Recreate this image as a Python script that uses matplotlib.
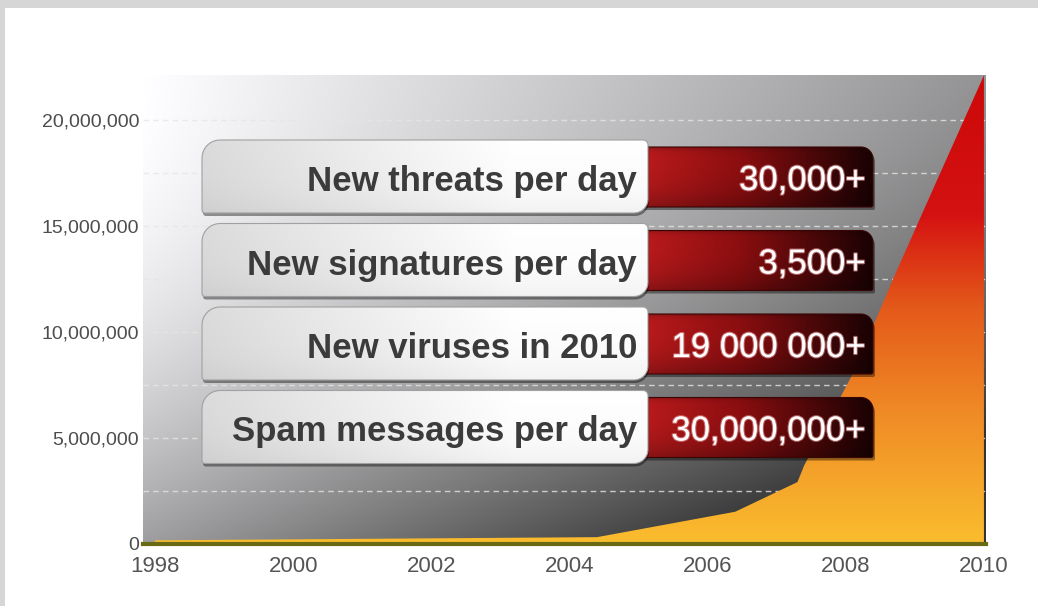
import numpy as np
import matplotlib
matplotlib.use("Agg")
import matplotlib.pyplot as plt
from matplotlib.patches import Polygon, Rectangle
from matplotlib.colors import LinearSegmentedColormap
import matplotlib.patheffects as pe

plt.rcParams['font.family'] = ['Liberation Sans', 'DejaVu Sans']

# New viruses (cumulative)
years = [1998, 2004.4, 2006.4, 2007.3, 2007.4, 2008.1, 2008.7, 2009.3, 2010]
viruses = [0.15e6, 0.3e6, 1.5e6, 2.9e6, 3.7e6, 8.0e6, 12.6e6, 17.0e6, 22.1e6]

xtick_years = [1998, 2000, 2002, 2004, 2006, 2008, 2010]
ytick_values = [0, 5e6, 10e6, 15e6, 20e6]
ytick_labels = ['0', '5,000,000', '10,000,000', '15,000,000', '20,000,000']
ygrid_minor = [2.5e6, 7.5e6, 12.5e6, 17.5e6]

stat_labels = ['New threats per day', 'New signatures per day',
               'New viruses in 2010', 'Spam messages per day']
stat_values = ['30,000+', '3,500+', '19 000 000+', '30,000,000+']

W, H = 1038, 606
fig = plt.figure(figsize=(W / 100, H / 100), dpi=100)
fig.patch.set_facecolor('white')

# main axes in pixel terms: left 143, right 986, top 75, bottom 543.5
ax = fig.add_axes([143.3 / W, (H - 543.5) / H, (986 - 143.3) / W, (543.5 - 75) / H])
xmin, xmax = 1997.83, 2010.03
ymax = 22.12e6

# grey lit background, bright in the top-left corner
U, V = np.meshgrid(np.linspace(0, 1, 300), np.linspace(0, 1, 200))
b = 1 - 0.42 * U - 0.38 * V ** 2 - 0.2 * U * V
b = np.clip(b, 0.2, 1)
bg = np.dstack([b, b, np.clip(b * 1.01, 0, 1)])
ax.imshow(bg, extent=(0, 1, 0, 1), transform=ax.transAxes, aspect='auto',
          origin='upper', zorder=0, interpolation='bilinear')

# area with a vertical heat gradient
poly = ax.fill_between(years, viruses, 0, facecolor='none', edgecolor='none', zorder=2)
heat = LinearSegmentedColormap.from_list('heat', [(0, '#fabd2e'), (0.27, '#f08c26'),
                                                  (0.5, '#e45a1a'), (0.7, '#d51212'),
                                                  (1, '#cc0808')])
grad = np.linspace(0, 1, 256).reshape(-1, 1)
im = ax.imshow(grad, extent=(xmin, xmax, 0, ymax), origin='lower', aspect='auto',
               cmap=heat, zorder=2, interpolation='bilinear')
im.set_clip_path(poly.get_paths()[0], transform=ax.transData)

ax.axhline(0, color='#6b6a14', lw=3, zorder=4, clip_on=False)

ax.set_xlim(xmin, xmax)
ax.set_ylim(0, ymax)
ax.set_xticks(xtick_years)
ax.set_yticks(ytick_values)
ax.set_yticklabels(ytick_labels)
ax.set_yticks(ygrid_minor, minor=True)
ax.grid(axis='y', which='both', color='#e6e6e6', linestyle=(0, (4, 3)), linewidth=1, alpha=0.8)
ax.set_axisbelow(True)
ax.tick_params(which='both', length=0)
ax.tick_params(axis='y', labelsize=14, labelcolor='#4d4d4d', pad=3)
ax.tick_params(axis='x', labelsize=16, labelcolor='#555555', pad=9)
for s in ax.spines.values():
    s.set_visible(False)

# overlay in pixel coordinates for the stat panels
ov = fig.add_axes([0, 0, 1, 1], zorder=5)
ov.axis('off')


def round_box(x0, y0, x1, y1, r_tl, r_tr, r_br, r_bl, n=10):
    pts = []
    for (cx, cy, r, a0) in [(x0 + r_tl, y0 + r_tl, r_tl, 180), (x1 - r_tr, y0 + r_tr, r_tr, 270),
                            (x1 - r_br, y1 - r_br, r_br, 0), (x0 + r_bl, y1 - r_bl, r_bl, 90)]:
        t = np.radians(np.linspace(a0, a0 + 90, n))
        pts += list(zip(cx + r * np.cos(t), cy + r * np.sin(t)))
    return np.array(pts)


def draw_panel(pts, rgb, box, z, shadow=(2, 3), edge='#9a9a9a'):
    ov.add_patch(Polygon(pts + np.array(shadow), closed=True, facecolor='black',
                         alpha=0.4, edgecolor='none', zorder=z))
    clip = Polygon(pts, closed=True, facecolor='none', edgecolor='none', zorder=z + 0.1)
    ov.add_patch(clip)
    x0, y0, x1, y1 = box
    img = ov.imshow(rgb, extent=(x0, x1, y1, y0), origin='upper', aspect='auto',
                    zorder=z + 0.2, interpolation='bilinear')
    img.set_clip_path(clip)
    ov.add_patch(Polygon(pts, closed=True, facecolor='none', edgecolor=edge,
                         lw=0.8, zorder=z + 0.3))


redmap = LinearSegmentedColormap.from_list('red', [(0, '#c01c1e'), (0.45, '#8c0e10'), (1, '#1a0203')])
Ur, Vr = np.meshgrid(np.linspace(0, 1, 200), np.linspace(0, 1, 40))
red_rgb = redmap(Ur)[:, :, :3] * (1 - 0.25 * Vr ** 3 - 0.2 * np.exp(-Vr * 25))[:, :, None]
Uw, Vw = np.meshgrid(np.linspace(0, 1, 200), np.linspace(0, 1, 40))
w = 0.84 + 0.14 * np.clip(Uw / 0.7, 0, 1) + 0.02 * (1 - Vw) - 0.03 * Vw ** 4
white_rgb = np.dstack([w, w, w])

for i, (lab, val) in enumerate(zip(stat_labels, stat_values)):
    top = 140 + 83.5 * i
    # red value panel
    rb = (630, top + 7, 873, top + 67)
    draw_panel(round_box(*rb, 2, 12, 2, 2), red_rgb, rb, 1, shadow=(2, 3), edge='#3a0505')
    # white label panel
    wb = (202, top, 648, top + 73)
    draw_panel(round_box(*wb, 18, 5, 14, 3), white_rgb, wb, 3, shadow=(1, 3), edge='#a0a0a0')
    ov.text(637, top + 51, lab, ha='right', va='baseline', fontsize=25,
            fontweight='bold', color='#3b3b3b', zorder=6)
    ov.text(866, top + 50, val, ha='right', va='baseline', fontsize=25, color='white', zorder=6,
            path_effects=[pe.withStroke(linewidth=1.6, foreground='#e8a0a0', alpha=0.6)])

# light grey frame strips at top and left
ov.add_patch(Rectangle((0, 0), W, 8, facecolor='#d6d6d6', edgecolor='none', zorder=7))
ov.add_patch(Rectangle((0, 0), 5, H, facecolor='#d6d6d6', edgecolor='none', zorder=7))

ov.set_xlim(0, W)
ov.set_ylim(H, 0)

fig.savefig('out.png', dpi=100)
